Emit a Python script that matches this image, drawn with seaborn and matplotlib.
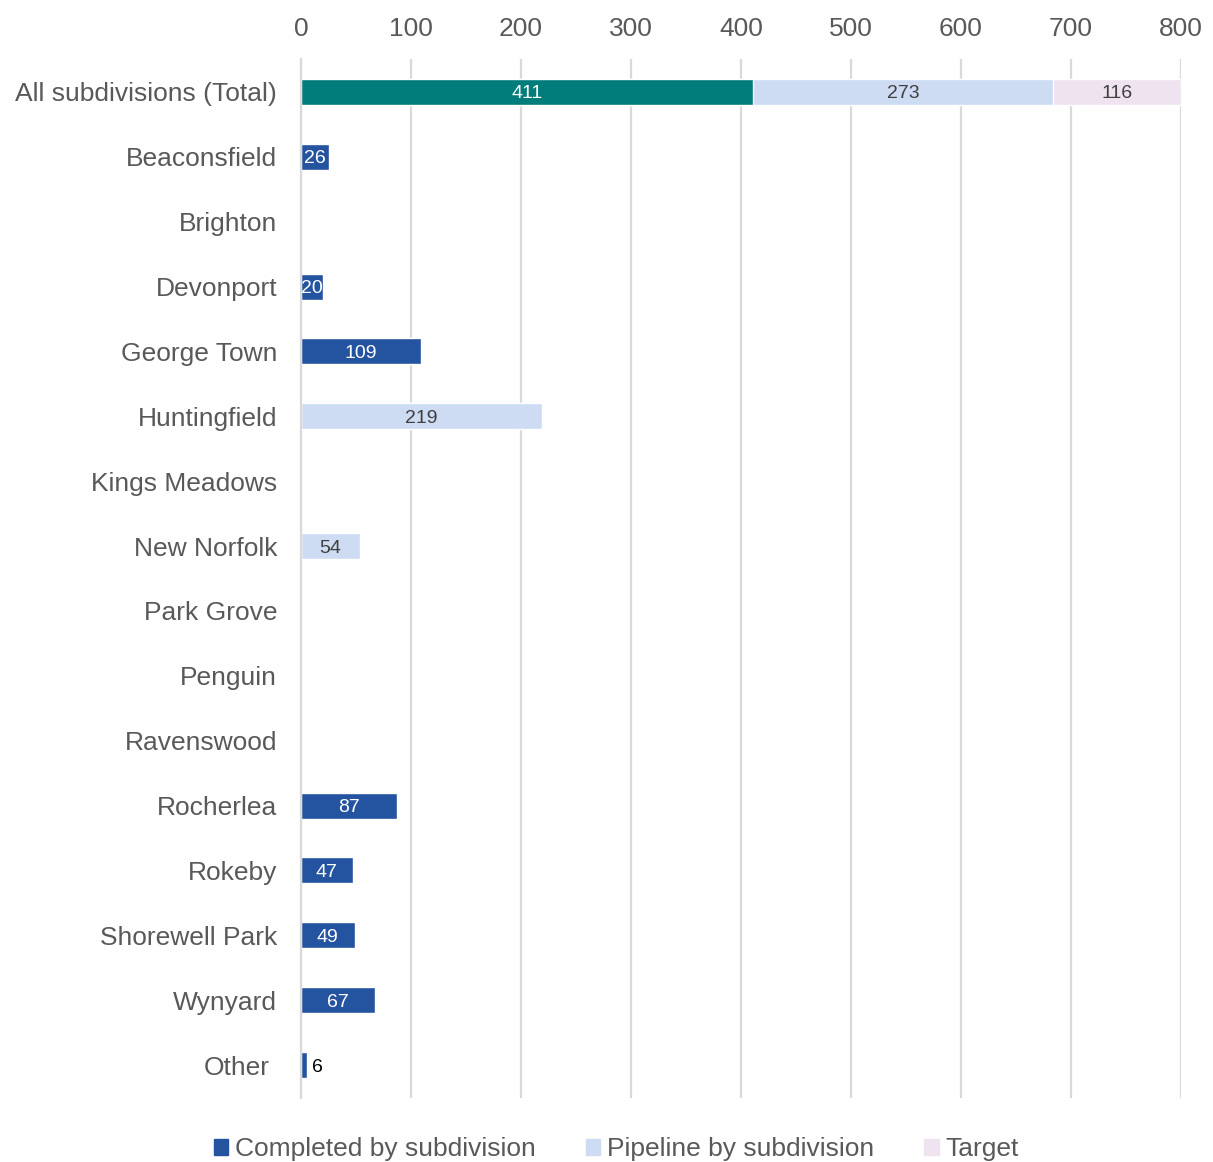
import matplotlib
matplotlib.use("Agg")
import matplotlib.pyplot as plt
import matplotlib.transforms as mtransforms
import seaborn as sns
import pandas as pd
from matplotlib.patches import Patch

categories = ["All subdivisions (Total)", "Beaconsfield", "Brighton", "Devonport",
              "George Town", "Huntingfield", "Kings Meadows", "New Norfolk",
              "Park Grove", "Penguin", "Ravenswood", "Rocherlea", "Rokeby",
              "Shorewell Park", "Wynyard", "Other"]
completed = [411, 26, 0, 20, 109, 0, 0, 0, 0, 0, 0, 87, 47, 49, 67, 6]
pipeline = [273, 0, 0, 0, 0, 219, 0, 54, 0, 0, 0, 0, 0, 0, 0, 0]
target = [116, 0, 0, 0, 0, 0, 0, 0, 0, 0, 0, 0, 0, 0, 0, 0]
x_ticks = [0, 100, 200, 300, 400, 500, 600, 700, 800]

c_total = "#007C7A"
c_done = "#2454A0"
c_pipe = "#CDDBF3"
c_target = "#EFE3F0"

df = pd.DataFrame({"category": categories, "completed": completed,
                   "pipeline": pipeline, "target": target})
df["cum_pipe"] = df["completed"] + df["pipeline"]
df["cum_target"] = df["cum_pipe"] + df["target"]

sns.set_style("white")
plt.rcParams["font.family"] = ["Liberation Sans", "DejaVu Sans"]

fig = plt.figure(figsize=(12.13, 11.62), dpi=100)
ax = fig.add_axes([0.248, 0.0555, 0.7256, 0.8933])

# stacked bars: draw cumulative totals back to front
sns.barplot(data=df, x="cum_target", y="category", color=c_target,
            width=0.4, orient="h", ax=ax, saturation=1)
sns.barplot(data=df, x="cum_pipe", y="category", color=c_pipe,
            width=0.4, orient="h", ax=ax, saturation=1)
done_palette = {c: (c_total if i == 0 else c_done) for i, c in enumerate(categories)}
sns.barplot(data=df, x="completed", y="category", hue="category",
            palette=done_palette, legend=False, width=0.4, orient="h",
            ax=ax, saturation=1)

# value labels
lab_fs = 14
for i, row in df.iterrows():
    if row["completed"] > 0:
        if row["completed"] < 10:
            ax.text(row["completed"] + 4, i, str(row["completed"]), va="center_baseline",
                    ha="left", fontsize=lab_fs, color="black")
        else:
            ax.text(row["completed"] / 2, i, str(row["completed"]), va="center_baseline",
                    ha="center", fontsize=lab_fs, color="white")
    if row["pipeline"] > 0:
        ax.text(row["completed"] + row["pipeline"] / 2, i, str(row["pipeline"]),
                va="center_baseline", ha="center", fontsize=lab_fs, color="#404040")
    if row["target"] > 0:
        ax.text(row["cum_pipe"] + row["target"] / 2, i, str(row["target"]),
                va="center_baseline", ha="center", fontsize=lab_fs, color="#404040")

ax.set_xlim(0, 800)
ax.set_ylim(15.5, -0.5)
ax.set_xticks(x_ticks)
ax.xaxis.tick_top()
ax.set_xlabel("")
ax.set_ylabel("")
ax.tick_params(axis="x", length=0, labelsize=19, labelcolor="#595959", pad=13)
ax.tick_params(axis="y", length=0, labelsize=19, labelcolor="#595959", pad=17)
ax.grid(axis="x", color="#D9D9D9", linewidth=1.6)
ax.set_axisbelow(True)
for s in ["top", "right", "bottom"]:
    ax.spines[s].set_visible(False)
ax.spines["left"].set_color("#D9D9D9")
ax.spines["left"].set_linewidth(1.6)

# "Other" sits a little further left in the original
last = ax.get_yticklabels()[-1]
last.set_transform(last.get_transform() +
                   mtransforms.ScaledTranslation(-0.07, 0, fig.dpi_scale_trans))

handles = [Patch(color=c_done, label="Completed by subdivision"),
           Patch(color=c_pipe, label="Pipeline by subdivision"),
           Patch(color=c_target, label="Target")]
fig.legend(handles=handles, loc="center", bbox_to_anchor=(0.508, 0.011), ncol=3,
           frameon=False, fontsize=19, labelcolor="#595959",
           handlelength=0.55, handleheight=0.55, handletextpad=0.25,
           columnspacing=1.9)

fig.savefig("out.png", dpi=100)
